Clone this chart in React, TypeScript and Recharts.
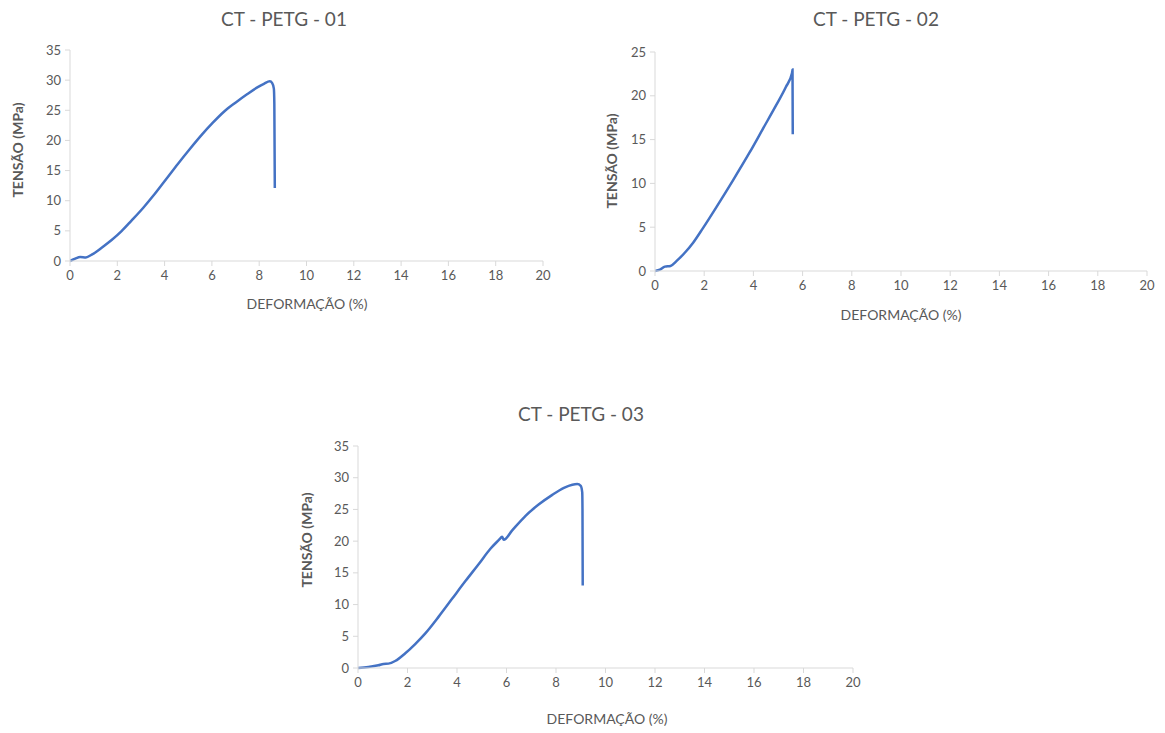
import React from "react";
import { LineChart, Line, XAxis, YAxis } from "recharts";

const strain01 = [0, 0.22, 0.43, 0.67, 0.92, 1.34, 1.76, 2.18, 2.6, 3.09, 3.58, 4.07, 4.56, 5.05, 5.54, 6.03, 6.52, 7.01, 7.5, 7.92, 8.2, 8.45, 8.55, 8.62, 8.64, 8.66];
const stress01 = [0, 0.39, 0.66, 0.6, 1.05, 2.2, 3.47, 4.95, 6.7, 8.8, 11.1, 13.6, 16.1, 18.5, 20.8, 22.9, 24.8, 26.3, 27.7, 28.8, 29.4, 29.8, 29.5, 28.6, 26.1, 12.1];

const strain02 = [0, 0.2, 0.4, 0.63, 0.88, 1.21, 1.55, 1.95, 2.49, 3.17, 3.84, 4.38, 4.92, 5.32, 5.57, 5.59, 5.6];
const stress02 = [0, 0.15, 0.5, 0.58, 1.15, 2.08, 3.23, 4.9, 7.27, 10.35, 13.5, 16.2, 18.9, 21.0, 22.6, 23.0, 15.6];

const strain03 = [0, 0.42, 0.82, 1.03, 1.23, 1.5, 1.9, 2.31, 2.72, 3.26, 3.8, 4.34, 4.88, 5.35, 5.72, 5.82, 5.89, 6.23, 6.77, 7.31, 7.85, 8.32, 8.66, 8.86, 9.0, 9.06, 9.07, 9.08];
const stress03 = [0, 0.16, 0.42, 0.64, 0.69, 1.1, 2.28, 3.77, 5.46, 8.1, 10.9, 13.7, 16.4, 18.8, 20.3, 20.7, 20.2, 21.7, 24.0, 25.8, 27.3, 28.4, 28.9, 29.0, 28.7, 27.7, 25.1, 13.0];

const xTicks = [0, 2, 4, 6, 8, 10, 12, 14, 16, 18, 20];
const yTicks35 = [0, 5, 10, 15, 20, 25, 30, 35];
const yTicks25 = [0, 5, 10, 15, 20, 25];

const titles = ["CT - PETG - 01", "CT - PETG - 02", "CT - PETG - 03"];
const xTitle = "DEFORMAÇÃO (%)";
const yTitle = "TENSÃO (MPa)";

const zip = (xs: number[], ys: number[]) => xs.map((x, i) => ({ x, y: ys[i] }));

const FONT = "Lato, 'Open Sans', sans-serif";
const GRAY = "#595959";
const AXIS = "#d9d9d9";
const BLUE = "#4472C4";

type Rect = { l: number; t: number; r: number; b: number };

function Panel({ plot, data, yMax, yTicks }: { plot: Rect; data: { x: number; y: number }[]; yMax: number; yTicks: number[] }) {
  const padL = 60, padT = 20, padR = 20, padB = 40;
  const w = plot.r - plot.l + padL + padR;
  const h = plot.b - plot.t + padT + padB;
  return (
    <div style={{ position: "absolute", left: plot.l - padL, top: plot.t - padT, width: w, height: h }}>
      <LineChart width={w} height={h} data={data} margin={{ left: 0, top: padT, right: padR, bottom: padB - 30 }}>
        <XAxis
          dataKey="x"
          type="number"
          domain={[0, 20]}
          ticks={xTicks}
          interval={0}
          height={30}
          stroke={AXIS}
          tickSize={5}
          tickMargin={5}
          tick={{ fill: GRAY, fontSize: 13, fontFamily: FONT }}
          allowDataOverflow
        />
        <YAxis
          type="number"
          domain={[0, yMax]}
          ticks={yTicks}
          interval={0}
          width={padL}
          stroke={AXIS}
          tickSize={5}
          tickMargin={4}
          tick={{ fill: GRAY, fontSize: 13, fontFamily: FONT }}
        />
        <Line dataKey="y" type="monotone" stroke={BLUE} strokeWidth={2.5} dot={false} isAnimationActive={false} />
      </LineChart>
    </div>
  );
}

function Text({ x, y, text, size, weight = 400, rotate = false }: { x: number; y: number; text: string; size: number; weight?: number; rotate?: boolean }) {
  return (
    <div
      style={{
        position: "absolute",
        left: x,
        top: y,
        transform: `translate(-50%, -50%)${rotate ? " rotate(-90deg)" : ""}`,
        whiteSpace: "nowrap",
        fontFamily: FONT,
        fontSize: size,
        fontWeight: weight,
        color: GRAY,
        lineHeight: 1,
      }}
    >
      {text}
    </div>
  );
}

export default function App() {
  return (
    <div style={{ position: "absolute", left: 0, top: 0, width: 1165, height: 733, background: "#fff", overflow: "hidden" }}>
      <Panel plot={{ l: 70, t: 50, r: 543, b: 261 }} data={zip(strain01, stress01)} yMax={35} yTicks={yTicks35} />
      <Panel plot={{ l: 655, t: 52, r: 1147, b: 271 }} data={zip(strain02, stress02)} yMax={25} yTicks={yTicks25} />
      <Panel plot={{ l: 358, t: 446, r: 853, b: 668 }} data={zip(strain03, stress03)} yMax={35} yTicks={yTicks35} />

      <Text x={284} y={18} text={titles[0]} size={19} />
      <Text x={876} y={18} text={titles[1]} size={19} />
      <Text x={581} y={413} text={titles[2]} size={19} />

      <Text x={18} y={150} text={yTitle} size={14} weight={700} rotate />
      <Text x={612} y={161} text={yTitle} size={14} weight={700} rotate />
      <Text x={307} y={540} text={yTitle} size={14} weight={700} rotate />

      <Text x={307} y={304} text={xTitle} size={14} />
      <Text x={901} y={315} text={xTitle} size={14} />
      <Text x={607} y={719} text={xTitle} size={14} />
    </div>
  );
}
